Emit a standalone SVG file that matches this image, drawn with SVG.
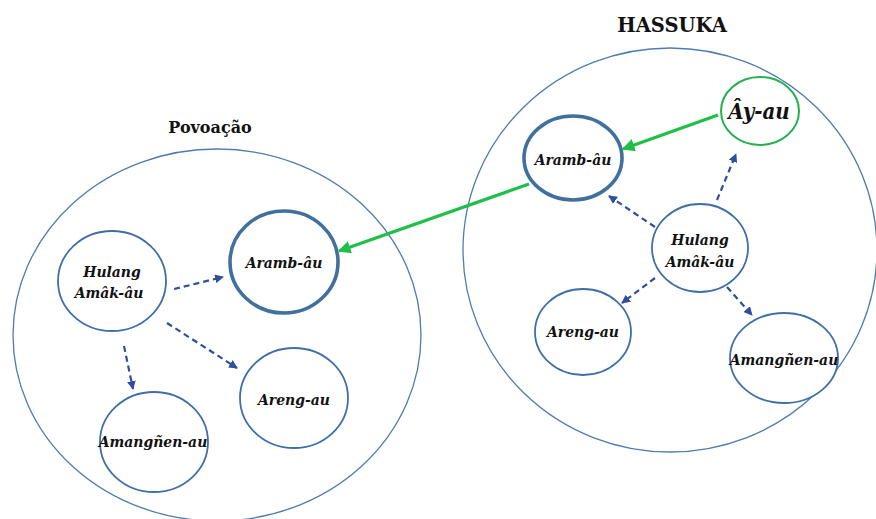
<svg xmlns="http://www.w3.org/2000/svg" width="876" height="519" viewBox="0 0 876 519">
  <style>
    .title { font-family: "DejaVu Serif", "Liberation Serif", serif; font-weight: bold; fill: #111; text-anchor: middle; }
    .lbl { font-family: "DejaVu Serif Condensed", "DejaVu Serif", "Liberation Serif", serif; font-stretch: condensed; font-weight: bold; font-style: italic; font-size: 15.5px; fill: #111; text-anchor: middle; }
    .lbl-big { font-size: 22px; }
    .group { fill: none; stroke: #4f7cb0; stroke-width: 1.3; }
    .node { fill: #fff; stroke: #3f6fa8; stroke-width: 1.8; }
    .node-main { fill: #fff; stroke: #41709f; stroke-width: 3.6; }
    .node-green { fill: #fff; stroke: #22b14c; stroke-width: 2; }
    .dash { fill: none; stroke: #2f4f9c; stroke-width: 2.2; stroke-dasharray: 6 4; marker-end: url(#headBlue); }
    .move { fill: none; stroke: #1fbf48; stroke-width: 3.2; marker-end: url(#headGreen); }
  </style>
  <defs>
    <marker id="headBlue" viewBox="0 0 10 10" refX="9" refY="5" markerWidth="4" markerHeight="4" orient="auto" markerUnits="strokeWidth">
      <path d="M0,0 L10,5 L0,10 z" fill="#2f4f9c"/>
    </marker>
    <marker id="headGreen" viewBox="0 0 10 10" refX="9" refY="5" markerWidth="4" markerHeight="4" orient="auto" markerUnits="strokeWidth">
      <path d="M0,0 L10,5 L0,10 z" fill="#1fbf48"/>
    </marker>
  </defs>

  <rect width="876" height="519" fill="#fff"/>

  <!-- settlement outlines -->
  <g id="povoacao">
    <ellipse class="group" cx="217" cy="335" rx="204" ry="186"/>
    <text class="title" x="210" y="133" font-size="16">Povoação</text>
  </g>
  <g id="hassuka">
    <ellipse class="group" cx="670" cy="250" rx="207" ry="202"/>
    <text class="title" x="672" y="32" font-size="19.5">HASSUKA</text>
  </g>

  <!-- Povoação houses -->
  <g id="pov-hulang">
    <ellipse class="node" cx="112" cy="281" rx="54" ry="50"/>
    <text class="lbl" x="112" y="277">Hulang</text>
    <text class="lbl" x="109" y="298">Amâk-âu</text>
  </g>
  <g id="pov-aramb">
    <ellipse class="node-main" cx="284" cy="262" rx="54" ry="51"/>
    <text class="lbl" x="284" y="268">Aramb-âu</text>
  </g>
  <g id="pov-areng">
    <ellipse class="node" cx="294" cy="398" rx="54" ry="50"/>
    <text class="lbl" x="294" y="405">Areng-au</text>
  </g>
  <g id="pov-amangnen">
    <ellipse class="node" cx="154" cy="442" rx="54" ry="50"/>
    <text class="lbl" x="153" y="447">Amangñen-au</text>
  </g>

  <!-- Hassuka houses -->
  <g id="has-ay">
    <ellipse class="node-green" cx="760" cy="111" rx="39" ry="34"/>
    <text class="lbl lbl-big" x="759" y="119">Ây-au</text>
  </g>
  <g id="has-aramb">
    <ellipse class="node-main" cx="573" cy="158" rx="49" ry="42"/>
    <text class="lbl" x="573" y="165">Aramb-âu</text>
  </g>
  <g id="has-hulang">
    <ellipse class="node" cx="700" cy="248" rx="48" ry="44"/>
    <text class="lbl" x="700" y="245">Hulang</text>
    <text class="lbl" x="700" y="267">Amâk-âu</text>
  </g>
  <g id="has-areng">
    <ellipse class="node" cx="583" cy="332" rx="48" ry="43"/>
    <text class="lbl" x="583" y="337">Areng-au</text>
  </g>
  <g id="has-amangnen">
    <ellipse class="node" cx="784" cy="358" rx="54" ry="45"/>
    <text class="lbl" x="784" y="365">Amangñen-au</text>
  </g>

  <!-- connectors -->
  <g id="connectors">
    <line class="dash" x1="174" y1="289" x2="223" y2="277"/>
    <line class="dash" x1="167" y1="323" x2="237" y2="368"/>
    <line class="dash" x1="124" y1="346" x2="133" y2="389"/>

    <line class="dash" x1="655" y1="227" x2="609" y2="196"/>
    <line class="dash" x1="717" y1="200" x2="736" y2="154"/>
    <line class="dash" x1="655" y1="278" x2="622" y2="303"/>
    <line class="dash" x1="727" y1="287" x2="752" y2="315"/>

    <line class="move" x1="718" y1="115" x2="623" y2="149"/>
    <line class="move" x1="529" y1="184" x2="339" y2="251"/>
  </g>
</svg>
